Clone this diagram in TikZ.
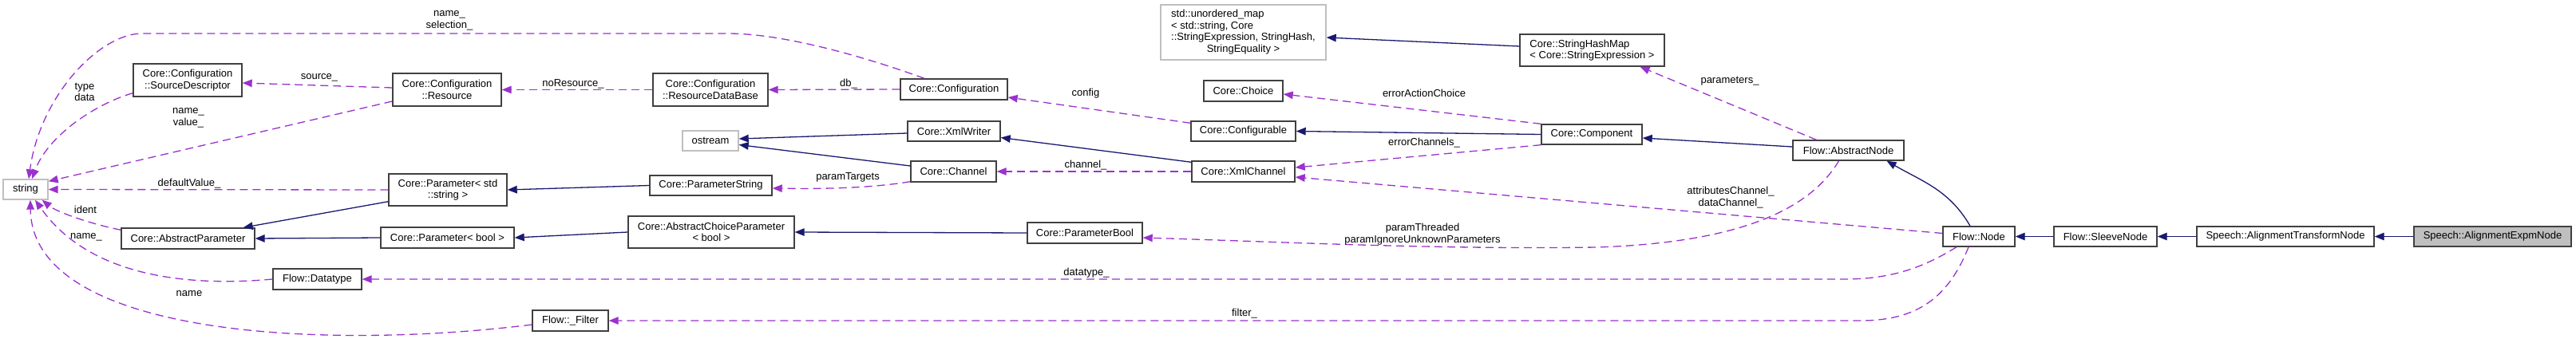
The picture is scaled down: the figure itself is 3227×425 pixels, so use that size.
\documentclass[tikz,border=0pt]{standalone}
\usepackage{fontspec}
\setmainfont{Liberation Sans}
\usetikzlibrary{arrows.meta}
\definecolor{edgeblue}{HTML}{191970}
\definecolor{edgepurple}{HTML}{9A32CD}
\definecolor{boxline}{HTML}{404040}
\definecolor{graybox}{HTML}{BFBFBF}
\tikzset{
  clsbox/.style={draw=boxline, line width=1.4pt, fill=white, inner sep=0pt, align=center,
    font=\fontsize{13}{14.5}\selectfont},
  extbox/.style={clsbox, draw=graybox},
  selfbox/.style={clsbox, fill=graybox},
  lbl/.style={inner sep=0pt, align=center, font=\fontsize{13}{14.5}\selectfont},
  inh/.style={draw=edgeblue, line width=1.3pt, -{Triangle[length=12pt,width=9.5pt]}},
  usedge/.style={draw=edgepurple, line width=1.3pt, dash pattern=on 10pt off 6pt,
    -{Triangle[length=12pt,width=9.5pt]}},
}
\begin{document}
\begin{tikzpicture}[x=1pt,y=-1pt]
\useasboundingbox (0,0) rectangle (3227,425);
% nodes
\node[extbox, minimum width=56pt, minimum height=25pt] (string) at (32,237.5) {string};
\node[clsbox, minimum width=136pt, minimum height=41pt] (srcdesc) at (235,100.5) {Core::Configuration\\::SourceDescriptor};
\node[clsbox, minimum width=136pt, minimum height=41pt] (resource) at (560,112.5) {Core::Configuration\\::Resource};
\node[clsbox, minimum width=148pt, minimum height=40pt] (pstd) at (561,238) {Core::Parameter< std\\::string >};
\node[clsbox, minimum width=167pt, minimum height=26pt] (absparam) at (235.5,299) {Core::AbstractParameter};
\node[clsbox, minimum width=167pt, minimum height=26pt] (pbool) at (560.5,298) {Core::Parameter< bool >};
\node[clsbox, minimum width=111pt, minimum height=26pt] (datatype) at (397.5,350) {Flow::Datatype};
\node[clsbox, minimum width=95pt, minimum height=26pt] (filter) at (714.5,402) {Flow::\_Filter};
\node[clsbox, minimum width=144pt, minimum height=41pt] (resdb) at (890,112.5) {Core::Configuration\\::ResourceDataBase};
\node[clsbox, minimum width=134pt, minimum height=26pt] (config) at (1195,112) {Core::Configuration};
\node[extbox, minimum width=70pt, minimum height=25pt] (ostream) at (890,176.5) {ostream};
\node[clsbox, minimum width=116pt, minimum height=25pt] (xmlwriter) at (1195,164.5) {Core::XmlWriter};
\node[clsbox, minimum width=107pt, minimum height=26pt] (channel) at (1194.5,215) {Core::Channel};
\node[clsbox, minimum width=153pt, minimum height=25pt] (pstring) at (890.5,232.5) {Core::ParameterString};
\node[clsbox, minimum width=208pt, minimum height=40pt] (abschoice) at (891,291) {Core::AbstractChoiceParameter\\< bool >};
\node[extbox, minimum width=207pt, minimum height=69pt] (umap) at (1557.5,40.5)
  {\begin{tabular}{@{}l@{}}std::unordered\_map\\< std::string, Core\\::StringExpression, StringHash,\\\multicolumn{1}{@{}c@{}}{StringEquality >}\end{tabular}};
\node[clsbox, minimum width=99pt, minimum height=26pt] (choice) at (1557.5,114) {Core::Choice};
\node[clsbox, minimum width=131pt, minimum height=25pt] (configurable) at (1557.5,164.5) {Core::Configurable};
\node[clsbox, minimum width=129pt, minimum height=26pt] (xmlchannel) at (1557.5,215) {Core::XmlChannel};
\node[clsbox, minimum width=144pt, minimum height=26pt] (pboolx) at (1359,292) {Core::ParameterBool};
\node[clsbox, align=left, minimum width=181pt, minimum height=40pt] (strhash) at (1994.5,63) {Core::StringHashMap\\< Core::StringExpression >};
\node[clsbox, minimum width=126pt, minimum height=25pt] (component) at (1994,168.5) {Core::Component};
\node[clsbox, minimum width=139pt, minimum height=25pt] (absnode) at (2315.5,188.5) {Flow::AbstractNode};
\node[clsbox, minimum width=90pt, minimum height=25pt] (flownode) at (2479,296.5) {Flow::Node};
\node[clsbox, minimum width=129pt, minimum height=25pt] (sleeve) at (2637.5,296.5) {Flow::SleeveNode};
\node[clsbox, minimum width=222pt, minimum height=25pt] (transform) at (2863,296.5) {Speech::AlignmentTransformNode};
\node[selfbox, minimum width=197pt, minimum height=25pt] (expm) at (3122.5,296.5) {Speech::AlignmentExpmNode};

% inheritance edges
\draw[inh] ([yshift=6pt]pstd.south west) -- ([xshift=-15pt]absparam.north east);
\draw[inh] (pbool.west) -- (absparam.east);
\draw[inh] (pstring.west) -- (pstd.east);
\draw[inh] (abschoice.west) -- (pbool.east);
\draw[inh] (pboolx.west) -- (abschoice.east);
\draw[inh] ([yshift=-2.5pt]xmlwriter.west) -- ([yshift=2.5pt]ostream.east);
\draw[inh] ([yshift=7pt]channel.west) -- ([yshift=-5pt]ostream.east);
\draw[inh] ([yshift=-2pt]xmlchannel.north west) -- ([yshift=-8pt]xmlwriter.east);
\draw[inh] (component.west) -- (configurable.east);
\draw[inh] ([yshift=4.5pt]absnode.west) -- ([yshift=-4.5pt]component.east);
\draw[inh] ([xshift=-11pt]flownode.north) to[out=120,in=-30] ([xshift=48pt]absnode.south);
\draw[inh] (sleeve.west) -- (flownode.east);
\draw[inh] (transform.west) -- (sleeve.east);
\draw[inh] (expm.west) -- (transform.east);
\draw[inh] ([yshift=5pt]strhash.west) -- ([yshift=-6.5pt]umap.east);

% usage edges
\draw[usedge] ([xshift=-37pt]config.north) .. controls (1080,70) and (980,42) .. (912,42) -- (178,42) .. controls (125,42) and (50,120) .. ([xshift=4pt]string.north);
\draw[usedge] ([yshift=5pt]srcdesc.south west) .. controls (120,130) and (60,170) .. ([xshift=8pt]string.north);
\draw[usedge] ([yshift=-14.5pt]resource.west) -- ([yshift=-3pt]string.north east);
\draw[usedge] (pstd.west) -- (string.east);
\draw[usedge] ([yshift=-3pt]absparam.north west) .. controls (110,280) and (70,265) .. ([xshift=-8pt]string.south east);
\draw[usedge] (datatype.west) .. controls (230,360) and (110,345) .. ([xshift=12pt]string.south);
\draw[usedge] ([yshift=-5pt]filter.west) .. controls (400,440) and (40,420) .. ([xshift=6pt]string.south);
\draw[usedge] ([yshift=2.5pt]resource.west) -- ([yshift=-3.5pt]srcdesc.east);
\draw[usedge] (resdb.west) -- (resource.east);
\draw[usedge] (config.west) -- (resdb.east);
\draw[usedge] ([yshift=-3pt]configurable.north west) -- ([yshift=-10pt]config.east);
\draw[usedge] (xmlchannel.west) -- (channel.east);
\draw[usedge] ([yshift=1pt]channel.south west) .. controls (1090,236) and (1030,237) .. ([yshift=-3.5pt]pstring.east);
\draw[usedge] (component.north west) -- ([yshift=-4pt]choice.east);
\draw[usedge] (component.south west) -- ([yshift=5pt]xmlchannel.east);
\draw[usedge] ([yshift=4pt]flownode.west) -- ([yshift=-7pt]xmlchannel.east);
\draw[usedge] ([xshift=-40pt]absnode.north) -- ([xshift=60pt]strhash.south);
\draw[usedge] ([xshift=-12pt]absnode.south) .. controls (2260,275) and (2150,305) .. (2000,310) .. controls (1800,313) and (1600,303) .. ([yshift=-6pt]pboolx.east);
\draw[usedge] ([xshift=-28pt]flownode.south) .. controls (2410,335) and (2370,350) .. (2310,350) -- (datatype.east);
\draw[usedge] ([xshift=-13pt]flownode.south) .. controls (2440,375) and (2400,402) .. (2330,402) -- (filter.east);

% edge labels
\node[lbl] (l1) at (563,26) {name\_\\selection\_};
\node[lbl] (l2) at (106,115.5) {type\\data};
\node[lbl] (l3) at (236,148) {name\_\\value\_};
\node[lbl] (l4) at (237,230) {defaultValue\_};
\node[lbl] (l5) at (107,263) {ident};
\node[lbl] (l6) at (108,297) {name\_};
\node[lbl] (l7) at (237,368) {name};
\node[lbl] (l8) at (400,97) {source\_};
\node[lbl] (l9) at (718,105) {noResource\_};
\node[lbl] (l10) at (1063,105) {db\_};
\node[lbl] (l11) at (1360,117) {config};
\node[lbl] (l12) at (1360,207) {channel\_};
\node[lbl] (l13) at (1062,222) {paramTargets};
\node[lbl] (l14) at (1784,117) {errorActionChoice};
\node[lbl] (l15) at (1784,179) {errorChannels\_};
\node[lbl] (l16) at (2168,247.5) {attributesChannel\_\\dataChannel\_};
\node[lbl] (l17) at (2167,102) {parameters\_};
\node[lbl] (l18) at (1782,293.5) {paramThreaded\\paramIgnoreUnknownParameters};
\node[lbl] (l19) at (1361,342) {datatype\_};
\node[lbl] (l20) at (1559,393) {filter\_};
\end{tikzpicture}
\end{document}
